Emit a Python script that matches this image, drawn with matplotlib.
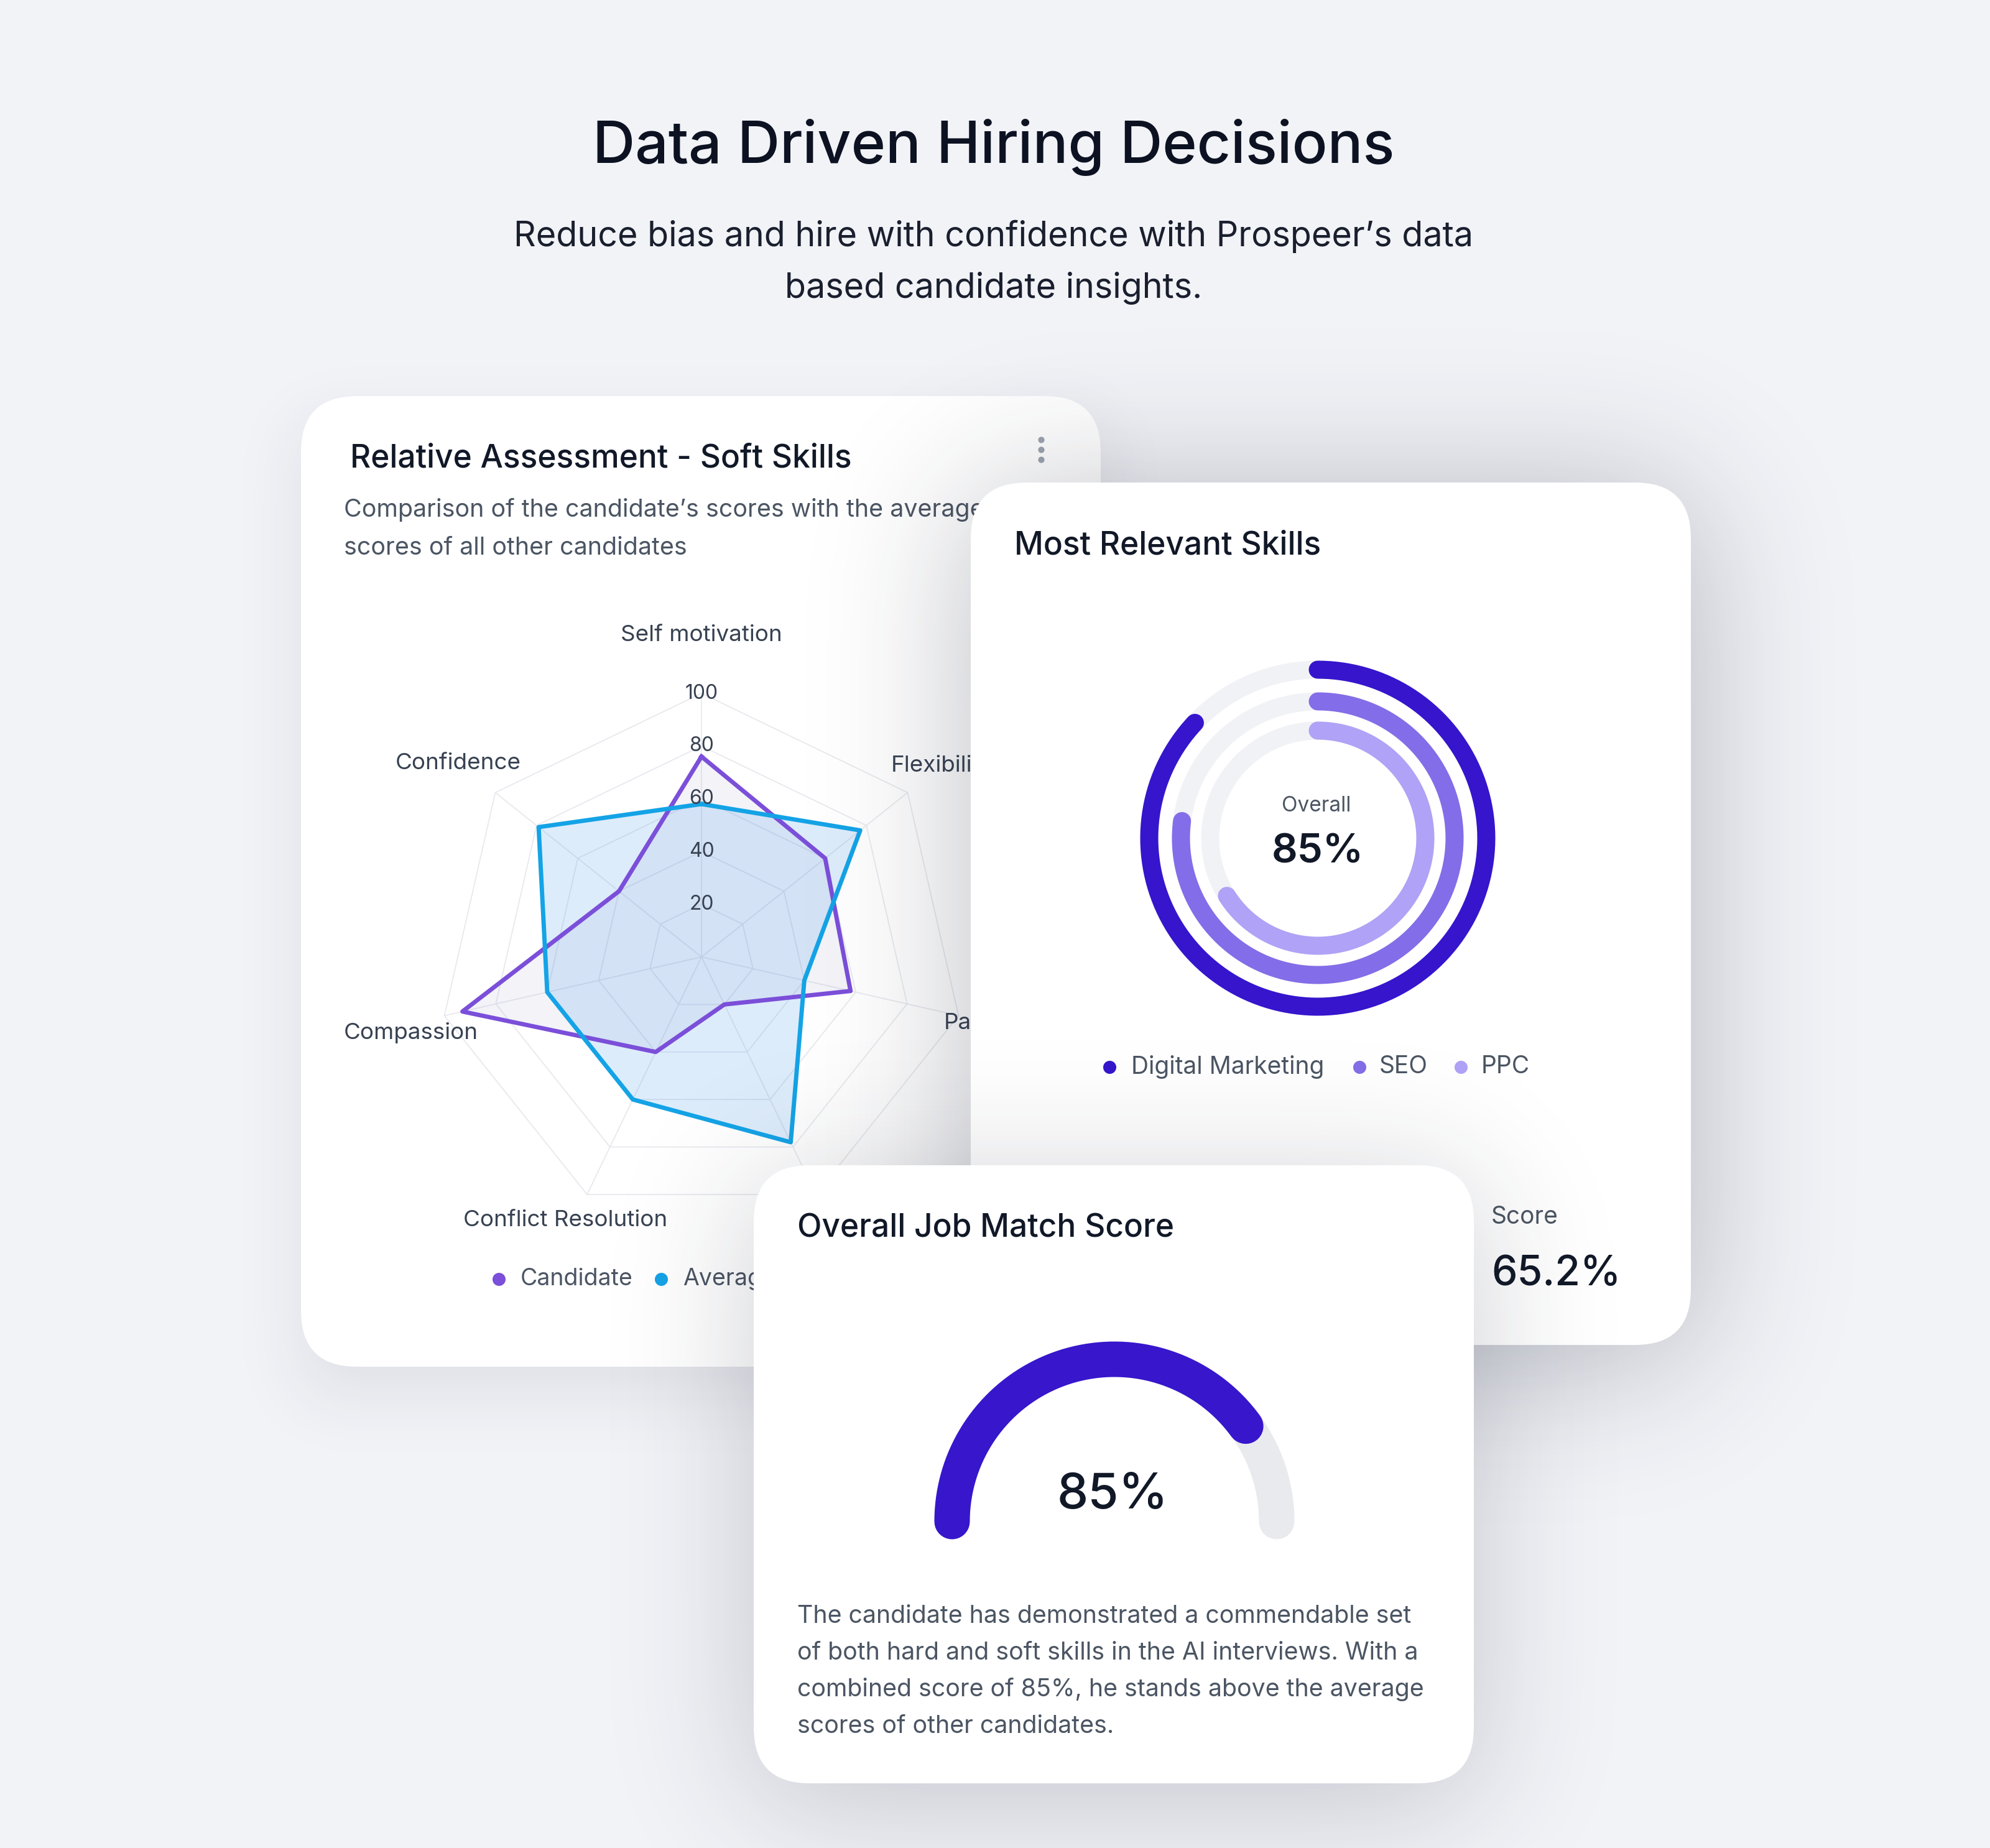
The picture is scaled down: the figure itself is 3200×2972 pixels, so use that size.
import math
import numpy as np
import matplotlib
matplotlib.use("Agg")
import matplotlib.pyplot as plt
from matplotlib.patches import FancyBboxPatch

plt.rcParams["font.family"] = ["Inter", "DejaVu Sans"]

W, H = 3200, 2972

# ---- data ----
soft_skills = ["Self motivation", "Flexibility", "Patience", "Teamwork",
               "Conflict Resolution", "Compassion", "Confidence"]
candidate_scores = [76, 60, 58, 20, 40, 93, 40]
average_scores = [58, 77, 40, 78, 60, 60, 79]
radar_ticks = [20, 40, 60, 80, 100]
series_names = ["Candidate", "Average"]

skill_names = ["Digital Marketing", "SEO", "PPC"]
skill_values = [87, 77, 66]
overall_label = "85%"
score_label = "65.2%"

match_text = "85%"
match_arc = 80      # share of the gauge arc that is filled in the picture

body_lines = [
    "The candidate has demonstrated a commendable set",
    "of both hard and soft skills in the AI interviews. With a",
    "combined score of 85%, he stands above the average",
    "scores of other candidates.",
]

DARK = "#111827"
GREY = "#4b5563"
CAND = "#7b4fd9"
AVG = "#14a3e6"
RING_COLORS = ["#3615cc", "#846de8", "#b0a2f6"]

# where each axis name sits: radius in radar units + nudge in points
label_r = [122, 116.5, 112.6, 106, 110.8, 113, 118]
label_nudge = [(0, 0), (0, 0), (0, 0), (11, 6), (-11, 0), (0, -11), (0, 0)]

_erf = np.vectorize(math.erf)


def overlay(z):
    ax = fig.add_axes([0, 0, 1, 1])
    ax.set_xlim(0, W)
    ax.set_ylim(H, 0)
    ax.axis("off")
    ax.set_zorder(z)
    return ax


# soft drop shadow: gaussian blurred box
def card_shadow(ax, x0, y0, x1, y1, sigma, alpha, dy=0, step=4):
    xs = np.arange(0, W, step) + step / 2
    ys = np.arange(0, H, step) + step / 2
    s = sigma * np.sqrt(2)
    px = 0.5 * (_erf((xs - x0) / s) - _erf((xs - x1) / s))
    py = 0.5 * (_erf((ys - y0 - dy) / s) - _erf((ys - y1 - dy) / s))
    img = np.zeros((len(ys), len(xs), 4))
    img[..., 0] = 0.12
    img[..., 1] = 0.14
    img[..., 2] = 0.22
    img[..., 3] = np.outer(py, px) * alpha
    ax.imshow(img, extent=(0, W, H, 0), interpolation="bilinear",
              aspect="auto", zorder=0)
    ax.set_xlim(0, W)
    ax.set_ylim(H, 0)


def card(ax, x0, y0, x1, y1, r=90):
    ax.add_patch(FancyBboxPatch((x0, y0), x1 - x0, y1 - y0,
                                boxstyle=f"round,pad=0,rounding_size={r}",
                                fc="white", ec="none", zorder=1))


def polar_at(cx, cy, half, z):
    ax = fig.add_axes([(cx - half) / W, 1 - (cy + half) / H,
                       2 * half / W, 2 * half / H], projection="polar")
    ax.axis("off")
    ax.set_zorder(z)
    return ax


fig = plt.figure(figsize=(32, 29.72), dpi=100)
fig.patch.set_facecolor("#f2f3f7")

# ---------------- page heading + radar card ----------------
ax0 = overlay(1)
ax0.text(1598, 237, "Data Driven Hiring Decisions", ha="center", va="center",
         fontsize=68, fontweight="medium", color="#0d1222")
ax0.text(1598, 380, "Reduce bias and hire with confidence with Prospeer’s data",
         ha="center", va="center", fontsize=40, color="#1a1f2e")
ax0.text(1598, 463, "based candidate insights.",
         ha="center", va="center", fontsize=40, color="#1a1f2e")

card_shadow(ax0, 484, 637, 1770, 2198, sigma=55, alpha=0.09, dy=45)
card(ax0, 484, 637, 1770, 2198)
ax0.text(563, 738, "Relative Assessment - Soft Skills", ha="left", va="center",
         fontsize=37, fontweight="medium", color=DARK, zorder=2)
ax0.text(553, 820, "Comparison of the candidate’s scores with the average",
         ha="left", va="center", fontsize=28.4, color=GREY, zorder=2)
ax0.text(553, 881, "scores of all other candidates",
         ha="left", va="center", fontsize=28.4, color=GREY, zorder=2)
ax0.scatter([1674, 1674, 1674], [707, 723, 739], s=40, color="#9ca3af", zorder=2)

for name, col, dx in zip(series_names, [CAND, AVG], [802, 1063]):
    ax0.scatter([dx], [2057], s=200, color=col, zorder=2)
    ax0.text(dx + 35, 2057, name, ha="left", va="center",
             fontsize=27, color=GREY, zorder=2)

# radar
axr = polar_at(1128, 1539, 424, 2)
axr.set_theta_zero_location("N")
axr.set_theta_direction(-1)
axr.set_ylim(0, 100)
n = len(soft_skills)
ang = np.arange(n) * 2 * np.pi / n
ang_c = np.r_[ang, ang[0]]
for t in radar_ticks:
    axr.plot(ang_c, [t] * (n + 1), color="#e8e9ee", lw=1.3, clip_on=False, zorder=1)
for a in ang:
    axr.plot([a, a], [0, 100], color="#e8e9ee", lw=1.3, clip_on=False, zorder=1)

cand_c = candidate_scores + candidate_scores[:1]
avg_c = average_scores + average_scores[:1]
axr.fill(ang_c, cand_c, color="#8a8ac4", alpha=0.10, lw=0, zorder=2)
axr.fill(ang_c, avg_c, color="#3b8fe8", alpha=0.17, lw=0, zorder=2)
axr.plot(ang_c, cand_c, color=CAND, lw=5, solid_joinstyle="round", zorder=3)
axr.plot(ang_c, avg_c, color=AVG, lw=5, solid_joinstyle="round", zorder=3)

for a, name, lr, nd in zip(ang, soft_skills, label_r, label_nudge):
    axr.annotate(name, xy=(a, lr), xytext=nd, textcoords="offset points",
                 ha="center", va="center", fontsize=26.5,
                 color="#374151", zorder=4, annotation_clip=False)
for t in radar_ticks:
    axr.text(0, t, str(t), ha="center", va="center", fontsize=23,
             color="#374151", zorder=4)

# ---------------- most relevant skills card ----------------
ax1 = overlay(3)
card_shadow(ax1, 1561, 776, 2719, 2163, sigma=120, alpha=0.30, dy=20)
card(ax1, 1561, 776, 2719, 2163)
ax1.text(1631, 878, "Most Relevant Skills", ha="left", va="center",
         fontsize=37, fontweight="medium", color=DARK, zorder=2)
ax1.text(2117, 1296, "Overall", ha="center", va="center",
         fontsize=24, color=GREY, zorder=2)
ax1.text(2119, 1370, overall_label, ha="center", va="center",
         fontsize=47, fontweight="semibold", color=DARK, zorder=2)
for name, col, dx, tx in zip(skill_names, RING_COLORS, [1784, 2186, 2349],
                             [1819, 2218, 2382]):
    ax1.scatter([dx], [1716], s=200, color=col, zorder=2)
    ax1.text(tx, 1716, name, ha="left", va="center", fontsize=28,
             color=GREY, zorder=2)
ax1.text(2398, 1957, "Score", ha="left", va="center", fontsize=28,
         color=GREY, zorder=2)
ax1.text(2398, 2050, score_label, ha="left", va="center", fontsize=47.5,
         fontweight="medium", color=DARK, zorder=2)

axk = polar_at(2119, 1348, 320, 4)
axk.set_theta_zero_location("N")
axk.set_theta_direction(-1)
axk.set_ylim(0, 320)
ring_r = [271, 220, 173]
ring_lw = 29 * 0.72
full = np.linspace(0, 2 * np.pi, 400)
for r, v, col in zip(ring_r, skill_values, RING_COLORS):
    axk.plot(full, [r] * len(full), color="#f1f2f6", lw=ring_lw,
             solid_capstyle="butt")
    th = np.linspace(0, v / 100 * 2 * np.pi, 300)
    axk.plot(th, [r] * len(th), color=col, lw=ring_lw, solid_capstyle="round")

# ---------------- overall job match card ----------------
ax2 = overlay(5)
card_shadow(ax2, 1212, 1874, 2370, 2868, sigma=110, alpha=0.22, dy=30)
card(ax2, 1212, 1874, 2370, 2868)
ax2.text(1282, 1976, "Overall Job Match Score", ha="left", va="center",
         fontsize=37, fontweight="medium", color=DARK, zorder=2)
ax2.text(1789, 2405, match_text, ha="center", va="center", fontsize=57.5,
         fontweight="medium", color=DARK, zorder=2)
for i, line in enumerate(body_lines):
    ax2.text(1282, 2600 + i * 58.7, line, ha="left", va="center",
             fontsize=28.3, color=GREY, zorder=2)

axg = polar_at(1792, 2447, 330, 6)
axg.set_theta_zero_location("W")
axg.set_theta_direction(-1)
axg.set_ylim(0, 330)
half = np.linspace(0, np.pi, 300)
axg.plot(half, [261] * len(half), color="#e9eaee", lw=57 * 0.72,
         solid_capstyle="round")
th = np.linspace(0, match_arc / 100 * np.pi, 300)
axg.plot(th, [261] * len(th), color="#3716cc", lw=57 * 0.72,
         solid_capstyle="round")

fig.savefig("out.png", dpi=100, facecolor=fig.get_facecolor())
